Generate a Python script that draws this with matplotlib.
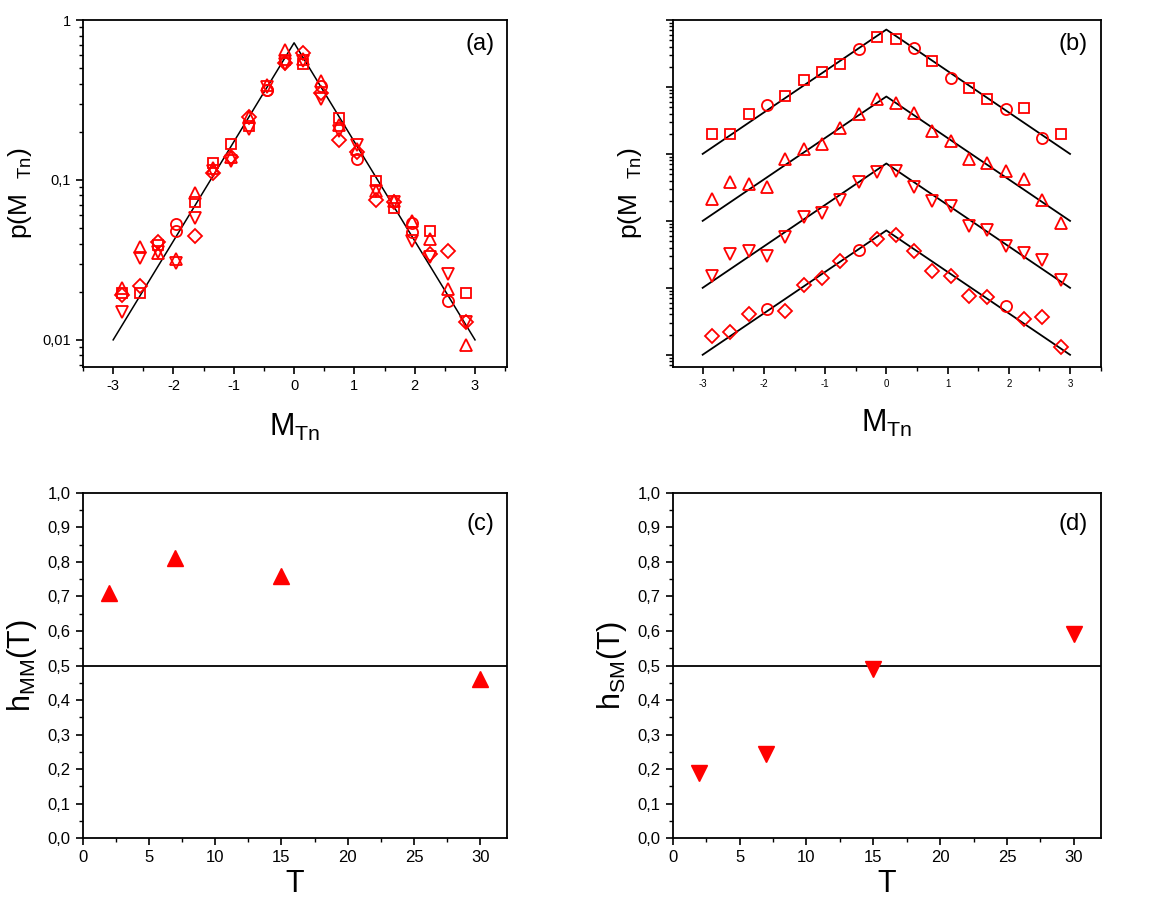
import numpy as np
import matplotlib
matplotlib.use("Agg")
import matplotlib.pyplot as plt
from matplotlib.ticker import (FuncFormatter, MultipleLocator, LogLocator,
                               NullFormatter, FixedLocator, FixedFormatter)

plt.rcParams["font.family"] = ["Liberation Sans", "DejaVu Sans"]
plt.rcParams["mathtext.default"] = "regular"
plt.rcParams["axes.unicode_minus"] = False

# bin centres of M_Tn
M_BINS = [-2.85, -2.55, -2.25, -1.95, -1.65, -1.35, -1.05, -0.75, -0.45, -0.15,
          0.15, 0.45, 0.75, 1.05, 1.35, 1.65, 1.95, 2.25, 2.55, 2.85]

# p(M_Tn) for the four series
P_SQUARE = [0.0196, 0.0196, 0.039, 0.053, 0.073, 0.127, 0.168, 0.218, 0.366, 0.566,
            0.528, 0.388, 0.245, 0.135, 0.098, 0.067, 0.047, 0.048, 0.0175, 0.0196]
P_UP = [0.0212, 0.038, 0.035, 0.032, 0.083, 0.119, 0.139, 0.247, 0.39, 0.653,
        0.57, 0.413, 0.22, 0.156, 0.085, 0.074, 0.055, 0.0425, 0.0208, 0.0093]
P_DOWN = [0.0149, 0.0324, 0.0352, 0.0303, 0.0577, 0.1135, 0.132, 0.208, 0.379, 0.534,
          0.553, 0.323, 0.201, 0.166, 0.085, 0.0724, 0.0418, 0.0332, 0.0258, 0.0129]
P_DIAMOND = [0.0192, 0.0216, 0.041, 0.048, 0.0445, 0.111, 0.14, 0.249, 0.364, 0.538,
             0.625, 0.352, 0.177, 0.149, 0.0747, 0.073, 0.054, 0.0342, 0.0362, 0.013]

# marker of every point (some points are drawn as circles)
MARK_SQUARE = "sssossssossosossosos"
MARK_UP = "^" * 20
MARK_DOWN = "v" * 20
MARK_DIAMOND = "DDDoDDDDoDDDDDDDoDDD"

# vertical shift of each series in panel (b)
SHIFT_B = [1000, 100, 10, 1]

# exponential fit line
FIT_X = [-3, 0, 3]
FIT_P = [0.01, 0.72, 0.01]

# Hurst exponents vs time scale
T_VALUES = [2, 7, 15, 30]
H_MM = [0.71, 0.81, 0.76, 0.46]
H_SM = [0.19, 0.245, 0.49, 0.59]

RED = "#ff0000"
SERIES = [(P_SQUARE, MARK_SQUARE), (P_UP, MARK_UP),
          (P_DOWN, MARK_DOWN), (P_DIAMOND, MARK_DIAMOND)]
MSIZE = {"s": 7.5, "o": 8, "^": 8.5, "v": 8.5, "D": 7.5}

comma = FuncFormatter(lambda v, pos: f"{v:.1f}".replace(".", ","))


def style_axes(ax):
    for sp in ax.spines.values():
        sp.set_linewidth(1.3)
    ax.tick_params(which="both", direction="out", top=False, right=False)
    ax.tick_params(which="major", length=5, width=1.2)
    ax.tick_params(which="minor", length=3, width=1.0)


def draw_points(ax, vals, marks, scale=1.0):
    for m in sorted(set(marks)):
        idx = [i for i, c in enumerate(marks) if c == m]
        xs = [M_BINS[i] for i in idx]
        ys = [vals[i] * scale for i in idx]
        ax.plot(xs, ys, linestyle="none", marker=m, markersize=MSIZE[m],
                markerfacecolor="none", markeredgecolor=RED, markeredgewidth=1.3)


fig = plt.figure(figsize=(11.53, 8.97), dpi=100)

# panel (a)
ax_a = fig.add_axes([0.072, 0.591, 0.3677, 0.3867])
ax_a.plot(FIT_X, FIT_P, color="black", lw=1.1)
for vals, marks in SERIES:
    draw_points(ax_a, vals, marks)
ax_a.set_yscale("log")
ax_a.set_ylim(0.00678, 1)
ax_a.set_xlim(-3.5, 3.53)
ax_a.yaxis.set_major_locator(FixedLocator([0.01, 0.1, 1]))
ax_a.yaxis.set_major_formatter(FixedFormatter(["0,01", "0,1", "1"]))
ax_a.yaxis.set_minor_locator(LogLocator(base=10, subs=np.arange(2, 10)))
ax_a.yaxis.set_minor_formatter(NullFormatter())
ax_a.xaxis.set_major_locator(MultipleLocator(1))
ax_a.xaxis.set_minor_locator(MultipleLocator(0.5))
style_axes(ax_a)
ax_a.tick_params(labelsize=10.5)
ax_a.set_xlabel("M$_{Tn}$", fontsize=22, labelpad=14)
ax_a.set_ylabel("p(M  $_{Tn}$)", fontsize=19, labelpad=6)
ax_a.text(0.97, 0.93, "(a)", transform=ax_a.transAxes, ha="right", va="center",
          fontsize=17)

# panel (b)
ax_b = fig.add_axes([0.5834, 0.591, 0.3712, 0.3867])
for (vals, marks), k in zip(SERIES, SHIFT_B):
    ax_b.plot(FIT_X, [p * k for p in FIT_P], color="black", lw=1.3)
    draw_points(ax_b, vals, marks, k)
ax_b.set_yscale("log")
ax_b.set_ylim(0.0066, 1000)
ax_b.set_xlim(-3.49, 3.5)
ax_b.yaxis.set_major_locator(LogLocator(base=10, numticks=12))
ax_b.yaxis.set_minor_locator(LogLocator(base=10, subs=np.arange(2, 10), numticks=12))
ax_b.yaxis.set_major_formatter(NullFormatter())
ax_b.yaxis.set_minor_formatter(NullFormatter())
ax_b.xaxis.set_major_locator(MultipleLocator(1))
ax_b.xaxis.set_minor_locator(MultipleLocator(0.5))
style_axes(ax_b)
ax_b.tick_params(labelsize=7)
ax_b.set_xlabel("M$_{Tn}$", fontsize=22, labelpad=14)
ax_b.set_ylabel("p(M  $_{Tn}$)", fontsize=19, labelpad=12)
ax_b.text(0.97, 0.93, "(b)", transform=ax_b.transAxes, ha="right", va="center",
          fontsize=17)

# panels (c) and (d)
for pos, vals, mk, lab, tag in [
        ([0.0717, 0.0654, 0.3678, 0.3853], H_MM, "^", "h$_{MM}$(T)", "(c)"),
        ([0.5834, 0.0654, 0.3712, 0.3853], H_SM, "v", "h$_{SM}$(T)", "(d)")]:
    ax = fig.add_axes(pos)
    ax.axhline(0.5, color="black", lw=1.3)
    ax.plot(T_VALUES, vals, linestyle="none", marker=mk, markersize=11,
            color=RED)
    ax.set_xlim(0, 32)
    ax.set_ylim(0, 1)
    ax.xaxis.set_major_locator(MultipleLocator(5))
    ax.xaxis.set_minor_locator(MultipleLocator(2.5))
    ax.yaxis.set_major_locator(MultipleLocator(0.1))
    ax.yaxis.set_minor_locator(MultipleLocator(0.05))
    ax.yaxis.set_major_formatter(comma)
    style_axes(ax)
    ax.tick_params(labelsize=12)
    ax.set_xlabel("T", fontsize=22, labelpad=3)
    ax.set_ylabel(lab, fontsize=22, labelpad=6)
    ax.text(0.97, 0.91, tag, transform=ax.transAxes, ha="right", va="center",
            fontsize=17)

fig.savefig("out.png", dpi=100)
